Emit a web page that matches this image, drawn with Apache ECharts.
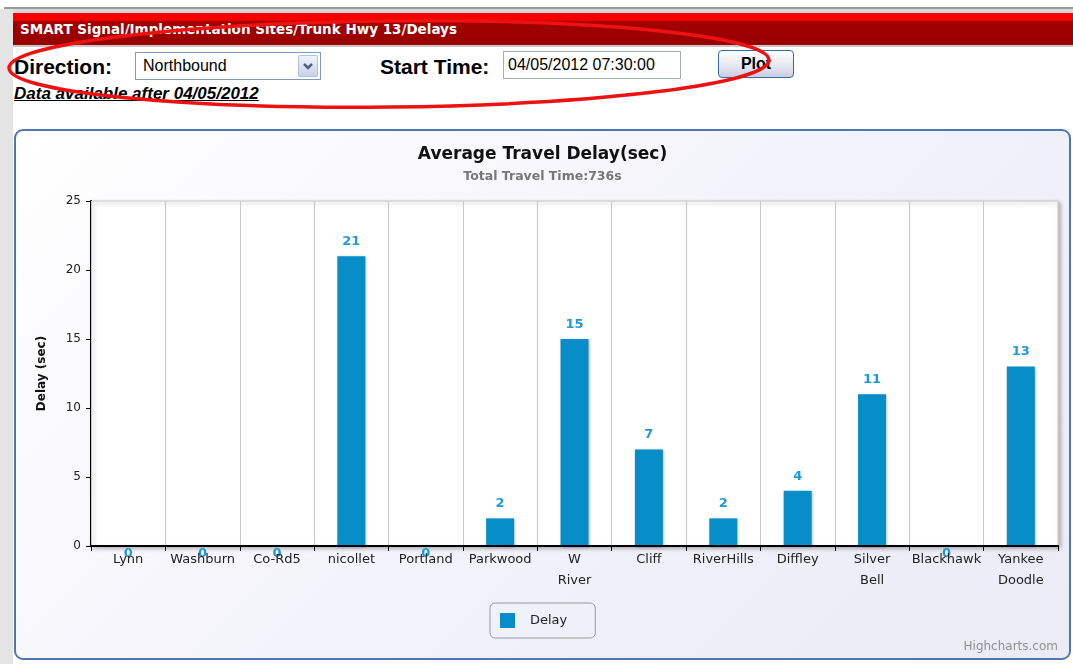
<!DOCTYPE html>
<html>
<head>
<meta charset="utf-8">
<script src="https://cdn.jsdelivr.net/npm/echarts@6/dist/echarts.min.js"></script>
<style>
body { margin:0; width:1073px; height:664px; background:#fff; position:relative; overflow:hidden; font-family:"Liberation Sans", Arial, sans-serif; }
.abs { position:absolute; }
#leftStrip { left:0; width:13px; top:9px; bottom:0; background:#e4e4e4; }
#topLine { left:4px; top:7px; right:0; height:2px; background:#9a9a9a; }
#topGray { left:13px; top:9px; right:0; height:4px; background:#d8d8d8; }
#header { left:13px; top:13px; right:0; height:32px; background:linear-gradient(to bottom,#ff0000 0,#f20000 22%,#a00000 28%,#990000 100%); border-bottom:2px solid #c8c8c8; }
#header span { position:absolute; left:7px; top:8px; color:#fff; font:bold 13.5px "DejaVu Sans",sans-serif; }
.lbl { font-size:21px; font-weight:bold; color:#000; }
.box { background:#fff; font-size:16px; color:#000; box-sizing:border-box; }
#chartBox { left:14px; top:129px; width:1057px; height:531px; box-sizing:border-box; border:2px solid #4f77ad; border-radius:9px; background:linear-gradient(135deg,#ffffff 0%,#f1f1fa 60%,#ebebf6 100%); }
#chart { width:1053px; height:527px; }
</style>
</head>
<body>
<div class="abs" id="leftStrip"></div>
<div class="abs" id="topLine"></div>
<div class="abs" id="topGray"></div>
<div class="abs" id="header"><span>SMART Signal/Implementation Sites/Trunk Hwy 13/Delays</span></div>

<div class="abs lbl" style="left:14px;top:55px;">Direction:</div>
<div class="abs box" style="left:135px;top:52px;width:186px;height:28px;border:1px solid #7f9db9;">
  <span style="position:absolute;left:7px;top:4px;">Northbound</span>
  <div style="position:absolute;right:2px;top:2px;width:20px;height:22px;box-sizing:border-box;border:1px solid #b5c3d9;border-radius:2px;background:linear-gradient(#f0f3fa,#c9d2e6);">
    <svg width="18" height="20" style="position:absolute;left:0;top:0"><polyline points="5,8 9,12 13,8" fill="none" stroke="#4d6185" stroke-width="2.5"/></svg>
  </div>
</div>
<div class="abs lbl" style="left:380px;top:55px;">Start Time:</div>
<div class="abs box" style="left:503px;top:51px;width:178px;height:28px;border:1px solid #a5acb2;">
  <span style="position:absolute;left:4px;top:4px;">04/05/2012 07:30:00</span>
</div>
<div class="abs" style="left:718px;top:50px;width:76px;height:28px;box-sizing:border-box;border:1px solid #3b6aa0;border-radius:4px;background:linear-gradient(#ffffff,#e4e6f0 60%,#c9cde0);text-align:center;font:bold 16px 'Liberation Sans',Arial,sans-serif;line-height:25px;">Plot</div>
<div class="abs" style="left:14px;top:84px;font-size:17px;font-weight:bold;font-style:italic;text-decoration:underline;color:#000;">Data available after 04/05/2012</div>

<div class="abs" id="chartBox"><div id="chart"></div></div>

<svg class="abs" width="1073" height="664" style="left:0;top:0;pointer-events:none;">
  <ellipse cx="389" cy="64" rx="380" ry="43" transform="rotate(-0.6 389 64)" fill="none" stroke="#ee1111" stroke-width="3.5"/>
</svg>

<script>
var sites = ['Lynn', 'Washburn', 'Co-Rd5', 'nicollet', 'Portland', 'Parkwood', 'W\nRiver', 'Cliff', 'RiverHills', 'Diffley', 'Silver\nBell', 'Blackhawk', 'Yankee\nDoodle'];
var delays = [0, 0, 0, 21, 0, 2, 15, 7, 2, 4, 11, 0, 13];
var yTicks = [0, 5, 10, 15, 20, 25];
var totalTravelTime = 736;

var barData = delays.map(function (v) {
  // zero bars: Highcharts put the label just under the axis
  return v === 0 ? { value: v, label: { position: 'bottom', distance: 1 } } : v;
});

var chart = echarts.init(document.getElementById('chart'));
chart.setOption({
  animation: false,
  textStyle: { fontFamily: 'DejaVu Sans' },
  title: {
    text: 'Average Travel Delay(sec)',
    subtext: 'Total Travel Time:' + totalTravelTime + 's',
    left: 'center',
    top: 10,
    itemGap: 7,
    textStyle: { fontSize: 17, fontWeight: 'bold', color: '#111', fontFamily: 'DejaVu Sans' },
    subtextStyle: { fontSize: 12.5, fontWeight: 'bold', color: '#777', fontFamily: 'DejaVu Sans' }
  },
  legend: {
    data: ['Delay'],
    left: 474,
    top: 472,
    icon: 'rect',
    itemWidth: 15,
    itemHeight: 15,
    padding: [10, 28, 10, 10],
    borderColor: '#999',
    borderWidth: 1,
    borderRadius: 5,
    textStyle: { fontSize: 13, color: '#222', padding: [0, 0, 0, 10] }
  },
  grid: {
    left: 75, top: 70, right: 11, bottom: 112,
    show: true,
    backgroundColor: '#fff',
    borderColor: '#c8c8c8',
    borderWidth: 1,
    shadowColor: 'rgba(0,0,0,0.3)',
    shadowBlur: 4,
    shadowOffsetX: 2,
    shadowOffsetY: 2
  },
  xAxis: {
    type: 'category',
    data: sites,
    z: 5,
    axisLine: { lineStyle: { color: '#000', width: 2 } },
    axisTick: { show: true, length: 5, lineStyle: { color: '#000' } },
    axisLabel: { fontSize: 13, color: '#222', margin: 3, lineHeight: 21, interval: 0 },
    splitLine: { show: true, lineStyle: { color: '#c8c8c8', width: 1 } }
  },
  yAxis: {
    type: 'value',
    min: yTicks[0],
    max: yTicks[yTicks.length - 1],
    interval: 5,
    name: 'Delay (sec)',
    nameLocation: 'middle',
    nameRotate: 90,
    nameGap: 43,
    nameTextStyle: { fontSize: 12, fontWeight: 'bold', color: '#111' },
    axisLine: { show: true, lineStyle: { color: '#000', width: 2 } },
    axisTick: { show: true, length: 5, lineStyle: { color: '#000' } },
    axisLabel: { fontSize: 12, color: '#222', margin: 10 },
    splitLine: { show: false }
  },
  series: [{
    name: 'Delay',
    type: 'bar',
    data: barData,
    barWidth: 28,
    itemStyle: {
      color: '#078dc7',
      shadowColor: 'rgba(0,0,0,0.3)',
      shadowBlur: 3,
      shadowOffsetX: 1,
      shadowOffsetY: 1
    },
    label: {
      show: true,
      position: 'top',
      distance: 8,
      fontSize: 13,
      fontWeight: 'bold',
      color: '#1e9bd7'
    }
  }],
  graphic: [{
    type: 'text',
    right: 11,
    bottom: 5,
    style: { text: 'Highcharts.com', fontSize: 12, fill: '#909090', fontFamily: 'DejaVu Sans' }
  }]
});
</script>
</body>
</html>
